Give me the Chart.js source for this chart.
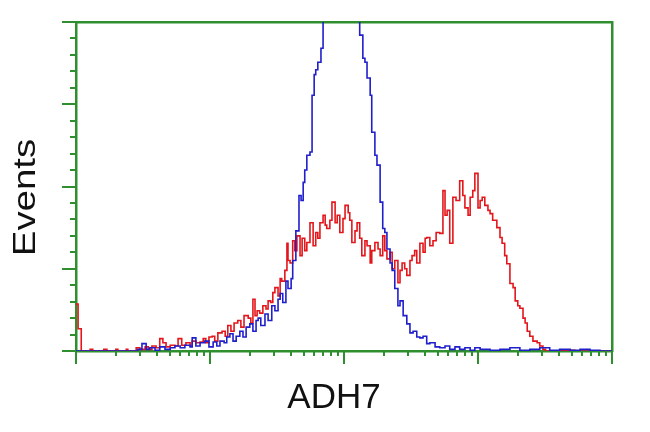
<!DOCTYPE html>
<html>
<head>
<meta charset="utf-8">
<script src="https://cdn.jsdelivr.net/npm/chart.js@4.4.0/dist/chart.umd.min.js"></script>
<style>
  body { margin: 0; background: #fff; }
  canvas { display: block; }
</style>
</head>
<body>
<canvas id="histChart" width="650" height="432"></canvas>
<script>
// 4-decade log histogram, 1024 channels
const channelMax = 1024;
const decades = 4;
const eventsMax = 400;
const xTitle = 'ADH7';
const yTitle = 'Events';

const blueChannels = [0, 103, 118, 126, 134, 141, 151, 160, 170, 180, 189, 199, 208, 218, 222, 229, 237, 246, 254, 262,
    269, 275, 283, 288, 294, 300, 306, 313, 319, 325, 332, 338, 344, 348, 353, 361, 367, 374, 380, 386,
    390, 395, 401, 405, 411, 414, 420, 426, 430, 434, 437, 441, 447, 451, 455, 458, 462, 468, 472, 478,
    485, 495, 504, 514, 523, 533, 539, 542, 548, 552, 556, 562, 565, 571, 575, 581, 586, 590, 594, 600,
    604, 609, 615, 619, 625, 632, 638, 644, 651, 657, 663, 670, 676, 686, 695, 705, 714, 724, 733, 743,
    753, 762, 772, 791, 810, 829, 848, 867, 886, 905, 924, 944, 963, 982, 1001, 1024];
const blueCounts = [0, 0, 2, 9, 2, 4, 1, 5, 2, 4, 6, 4, 7, 5, 16, 6, 10, 12, 5, 11,
    6, 12, 10, 17, 21, 12, 18, 24, 17, 29, 33, 24, 37, 40, 31, 45, 37, 55, 49, 63,
    70, 59, 85, 76, 88, 110, 146, 189, 183, 205, 220, 238, 242, 311, 336, 342, 351, 368, 415, 464,
    512, 537, 549, 537, 512, 464, 409, 384, 356, 351, 332, 311, 266, 238, 226, 181, 149, 144, 124, 107,
    98, 76, 55, 61, 43, 33, 22, 24, 17, 16, 18, 9, 10, 5, 4, 6, 2, 5, 2, 4,
    1, 4, 2, 1, 2, 4, 1, 2, 4, 1, 2, 1, 2, 1, 0, 0];

const redChannels = [0, 4, 10, 27, 32, 53, 59, 76, 80, 96, 99, 115, 122, 132, 138, 145, 153, 160, 166, 172,
    180, 189, 195, 202, 210, 218, 222, 229, 237, 243, 248, 254, 260, 265, 271, 279, 285, 290, 296, 302,
    309, 315, 321, 329, 334, 338, 342, 346, 351, 357, 363, 367, 372, 376, 380, 386, 390, 393, 399, 403,
    405, 409, 414, 418, 422, 428, 432, 437, 441, 447, 453, 458, 462, 466, 472, 476, 479, 485, 489, 495,
    499, 504, 510, 514, 520, 523, 527, 533, 537, 542, 546, 552, 556, 562, 565, 571, 577, 581, 586, 590,
    594, 600, 604, 609, 615, 619, 623, 628, 632, 638, 642, 647, 651, 657, 663, 667, 670, 676, 682, 688,
    695, 701, 705, 709, 714, 720, 726, 733, 739, 743, 749, 753, 758, 762, 768, 772, 776, 781, 787, 791,
    796, 804, 810, 814, 819, 823, 829, 835, 839, 844, 848, 854, 858, 862, 867, 873, 881, 886, 892, 897,
    924, 953, 1024];
const redCounts = [57, 27, 0, 2, 0, 2, 0, 2, 0, 2, 0, 4, 2, 5, 2, 6, 4, 15, 10, 5,
    7, 6, 15, 7, 10, 6, 12, 10, 11, 15, 10, 17, 18, 12, 22, 24, 18, 31, 24, 34,
    37, 29, 43, 40, 34, 63, 43, 49, 46, 55, 51, 61, 59, 71, 77, 67, 88, 85, 98, 131,
    110, 107, 134, 122, 140, 116, 137, 122, 132, 156, 128, 144, 137, 156, 165, 153, 149, 159, 181, 156,
    165, 144, 161, 177, 168, 159, 132, 146, 156, 137, 116, 134, 128, 107, 122, 132, 124, 116, 140, 122,
    112, 120, 100, 110, 83, 98, 107, 100, 92, 110, 116, 122, 107, 131, 120, 137, 138, 128, 134, 144,
    143, 195, 165, 171, 131, 187, 183, 207, 189, 174, 165, 187, 195, 216, 174, 183, 187, 177, 171, 167,
    159, 150, 138, 131, 116, 106, 82, 77, 61, 55, 52, 40, 34, 24, 18, 12, 10, 6, 2, 0,
    1, 0, 0];

const green = '#2f8f2f';
const fontFamily = '"Liberation Sans", Arial, sans-serif';
const toPoints = (xs, ys) => xs.map((x, i) => ({ x: x, y: ys[i] }));

// tick marks: long at decades / every 100 events, short in between
const tickMarks = {
    id: 'tickMarks',
    afterDraw: chart => {
        const { ctx, chartArea, scales } = chart;
        ctx.save();
        ctx.strokeStyle = green;
        ctx.lineWidth = 2;
        ctx.beginPath();
        for (let d = 0; d <= decades; d++) {
            const steps = d < decades ? 9 : 1;
            for (let k = 1; k <= steps; k++) {
                const px = Math.round(scales.x.getPixelForValue((d + Math.log10(k)) * channelMax / decades));
                const len = k === 1 ? 13 : 5;
                ctx.moveTo(px, chartArea.bottom);
                ctx.lineTo(px, chartArea.bottom + len);
            }
        }
        for (let v = 0; v <= eventsMax; v += 20) {
            const py = Math.round(scales.y.getPixelForValue(v));
            const len = v % 100 === 0 ? 14 : 6;
            ctx.moveTo(chartArea.left, py);
            ctx.lineTo(chartArea.left - len, py);
        }
        ctx.stroke();
        ctx.restore();
    }
};

// axis titles, placed like the scanned plot (Events is drawn a bit stretched)
const axisTitles = {
    id: 'axisTitles',
    afterDraw: chart => {
        const { ctx, chartArea } = chart;
        ctx.save();
        ctx.fillStyle = '#111';
        ctx.textAlign = 'center';
        ctx.textBaseline = 'alphabetic';
        ctx.font = '35px ' + fontFamily;
        ctx.fillText(xTitle, (chartArea.left + chartArea.right) / 2 - 10, chartArea.bottom + 57);
        ctx.translate(chartArea.left - 41, (chartArea.top + chartArea.bottom) / 2 + 11);
        ctx.rotate(-Math.PI / 2);
        ctx.scale(1.24, 1);
        ctx.font = '31px ' + fontFamily;
        ctx.fillText(yTitle, 0, 0);
        ctx.restore();
    }
};

const frameAxis = (position, size) => ({
    type: 'linear',
    position: position,
    display: true,
    ticks: { display: false },
    grid: { display: false, drawTicks: false },
    border: { color: green, width: 2.5 },
    afterFit: s => {
        if (s.isHorizontal()) s.height = size; else s.width = size;
    }
});

new Chart(document.getElementById('histChart'), {
    type: 'line',
    data: {
        datasets: [
            { label: 'ADH7', data: toPoints(blueChannels, blueCounts), borderColor: '#1f1fcc' },
            { label: 'control', data: toPoints(redChannels, redCounts), borderColor: '#e2161b' }
        ]
    },
    options: {
        responsive: false,
        animation: false,
        layout: { padding: 0 },
        elements: {
            line: { borderWidth: 1.6, stepped: true, tension: 0 },
            point: { radius: 0 }
        },
        plugins: { legend: { display: false }, tooltip: { enabled: false } },
        scales: {
            x: Object.assign(frameAxis('bottom', 81), { min: 0, max: channelMax }),
            y: Object.assign(frameAxis('left', 76), { min: 0, max: eventsMax }),
            x2: Object.assign(frameAxis('top', 22), { min: 0, max: channelMax }),
            y2: Object.assign(frameAxis('right', 38), { min: 0, max: eventsMax })
        }
    },
    plugins: [tickMarks, axisTitles]
});
</script>
</body>
</html>
